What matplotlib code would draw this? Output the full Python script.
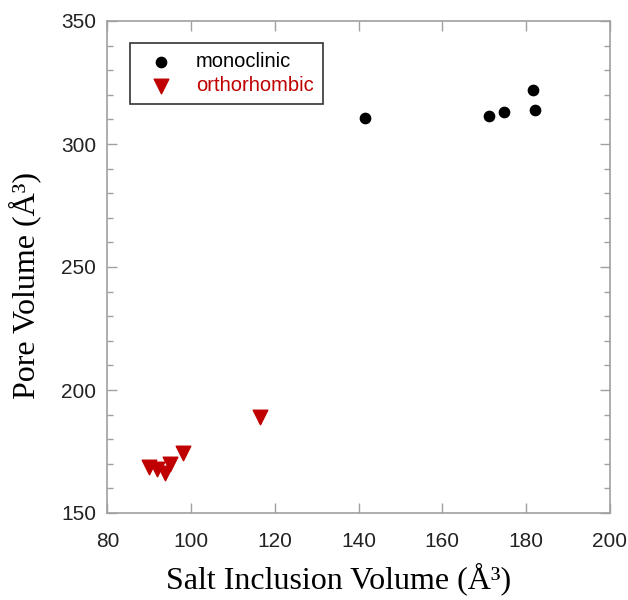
import matplotlib.pyplot as plt
from matplotlib.ticker import MultipleLocator

# data
mono_x = [141.6, 171.2, 174.7, 181.7, 182.2]
mono_y = [310.5, 311.2, 313.2, 322.1, 313.8]

ortho_x = [89.9, 91.8, 93.8, 95.0, 98.0, 116.5]
ortho_y = [168.8, 167.7, 166.3, 169.9, 174.5, 189.1]

x_ticks = [80, 100, 120, 140, 160, 180, 200]
y_ticks = [150, 200, 250, 300, 350]

RED = "#c00000"
FRAME = "#a0a0a0"

fig = plt.figure(figsize=(6.28, 6.0), dpi=100)
ax = fig.add_axes([0.171, 0.145, 0.8, 0.82])

ax.scatter(mono_x, mono_y, marker="o", s=55, color="black", label="monoclinic", zorder=3)
ax.scatter(ortho_x, ortho_y, marker="v", s=110, color=RED, label="orthorhombic", zorder=3)

ax.set_xlim(80, 200)
ax.set_ylim(150, 350)
ax.set_xticks(x_ticks)
ax.set_yticks(y_ticks)
ax.yaxis.set_minor_locator(MultipleLocator(10))

for sp in ax.spines.values():
    sp.set_color(FRAME)
    sp.set_linewidth(1.2)

ax.tick_params(which="both", direction="in", top=True, right=True, color=FRAME, width=1)
ax.tick_params(which="major", length=7, labelsize=15, pad=8)
ax.tick_params(which="minor", length=4)
for lab in ax.get_xticklabels() + ax.get_yticklabels():
    lab.set_family("Liberation Sans")
    lab.set_color("#222222")
ax.tick_params(axis="x", pad=14)

ax.set_xlabel("Salt Inclusion Volume (Å³)", family="Liberation Serif", fontsize=23, labelpad=9)
ax.set_ylabel("Pore Volume (Å³)", family="Liberation Serif", fontsize=23, labelpad=14)
ax.xaxis.set_label_coords(0.46, -0.1, transform=ax.transAxes)
ax.xaxis.label.set_va("top")
ax.yaxis.label.set_y(0.463)

leg = ax.legend(loc="upper left", bbox_to_anchor=(0.046, 0.955), borderaxespad=0,
                frameon=True, fancybox=False,
                prop={"family": "Liberation Sans", "size": 14.5}, handletextpad=0.7,
                borderpad=0.45, labelspacing=0.25, handlelength=2.1)
leg.get_frame().set_edgecolor("black")
leg.get_frame().set_linewidth(1.2)
leg.get_texts()[1].set_color(RED)

fig.savefig("out.png", dpi=100)
